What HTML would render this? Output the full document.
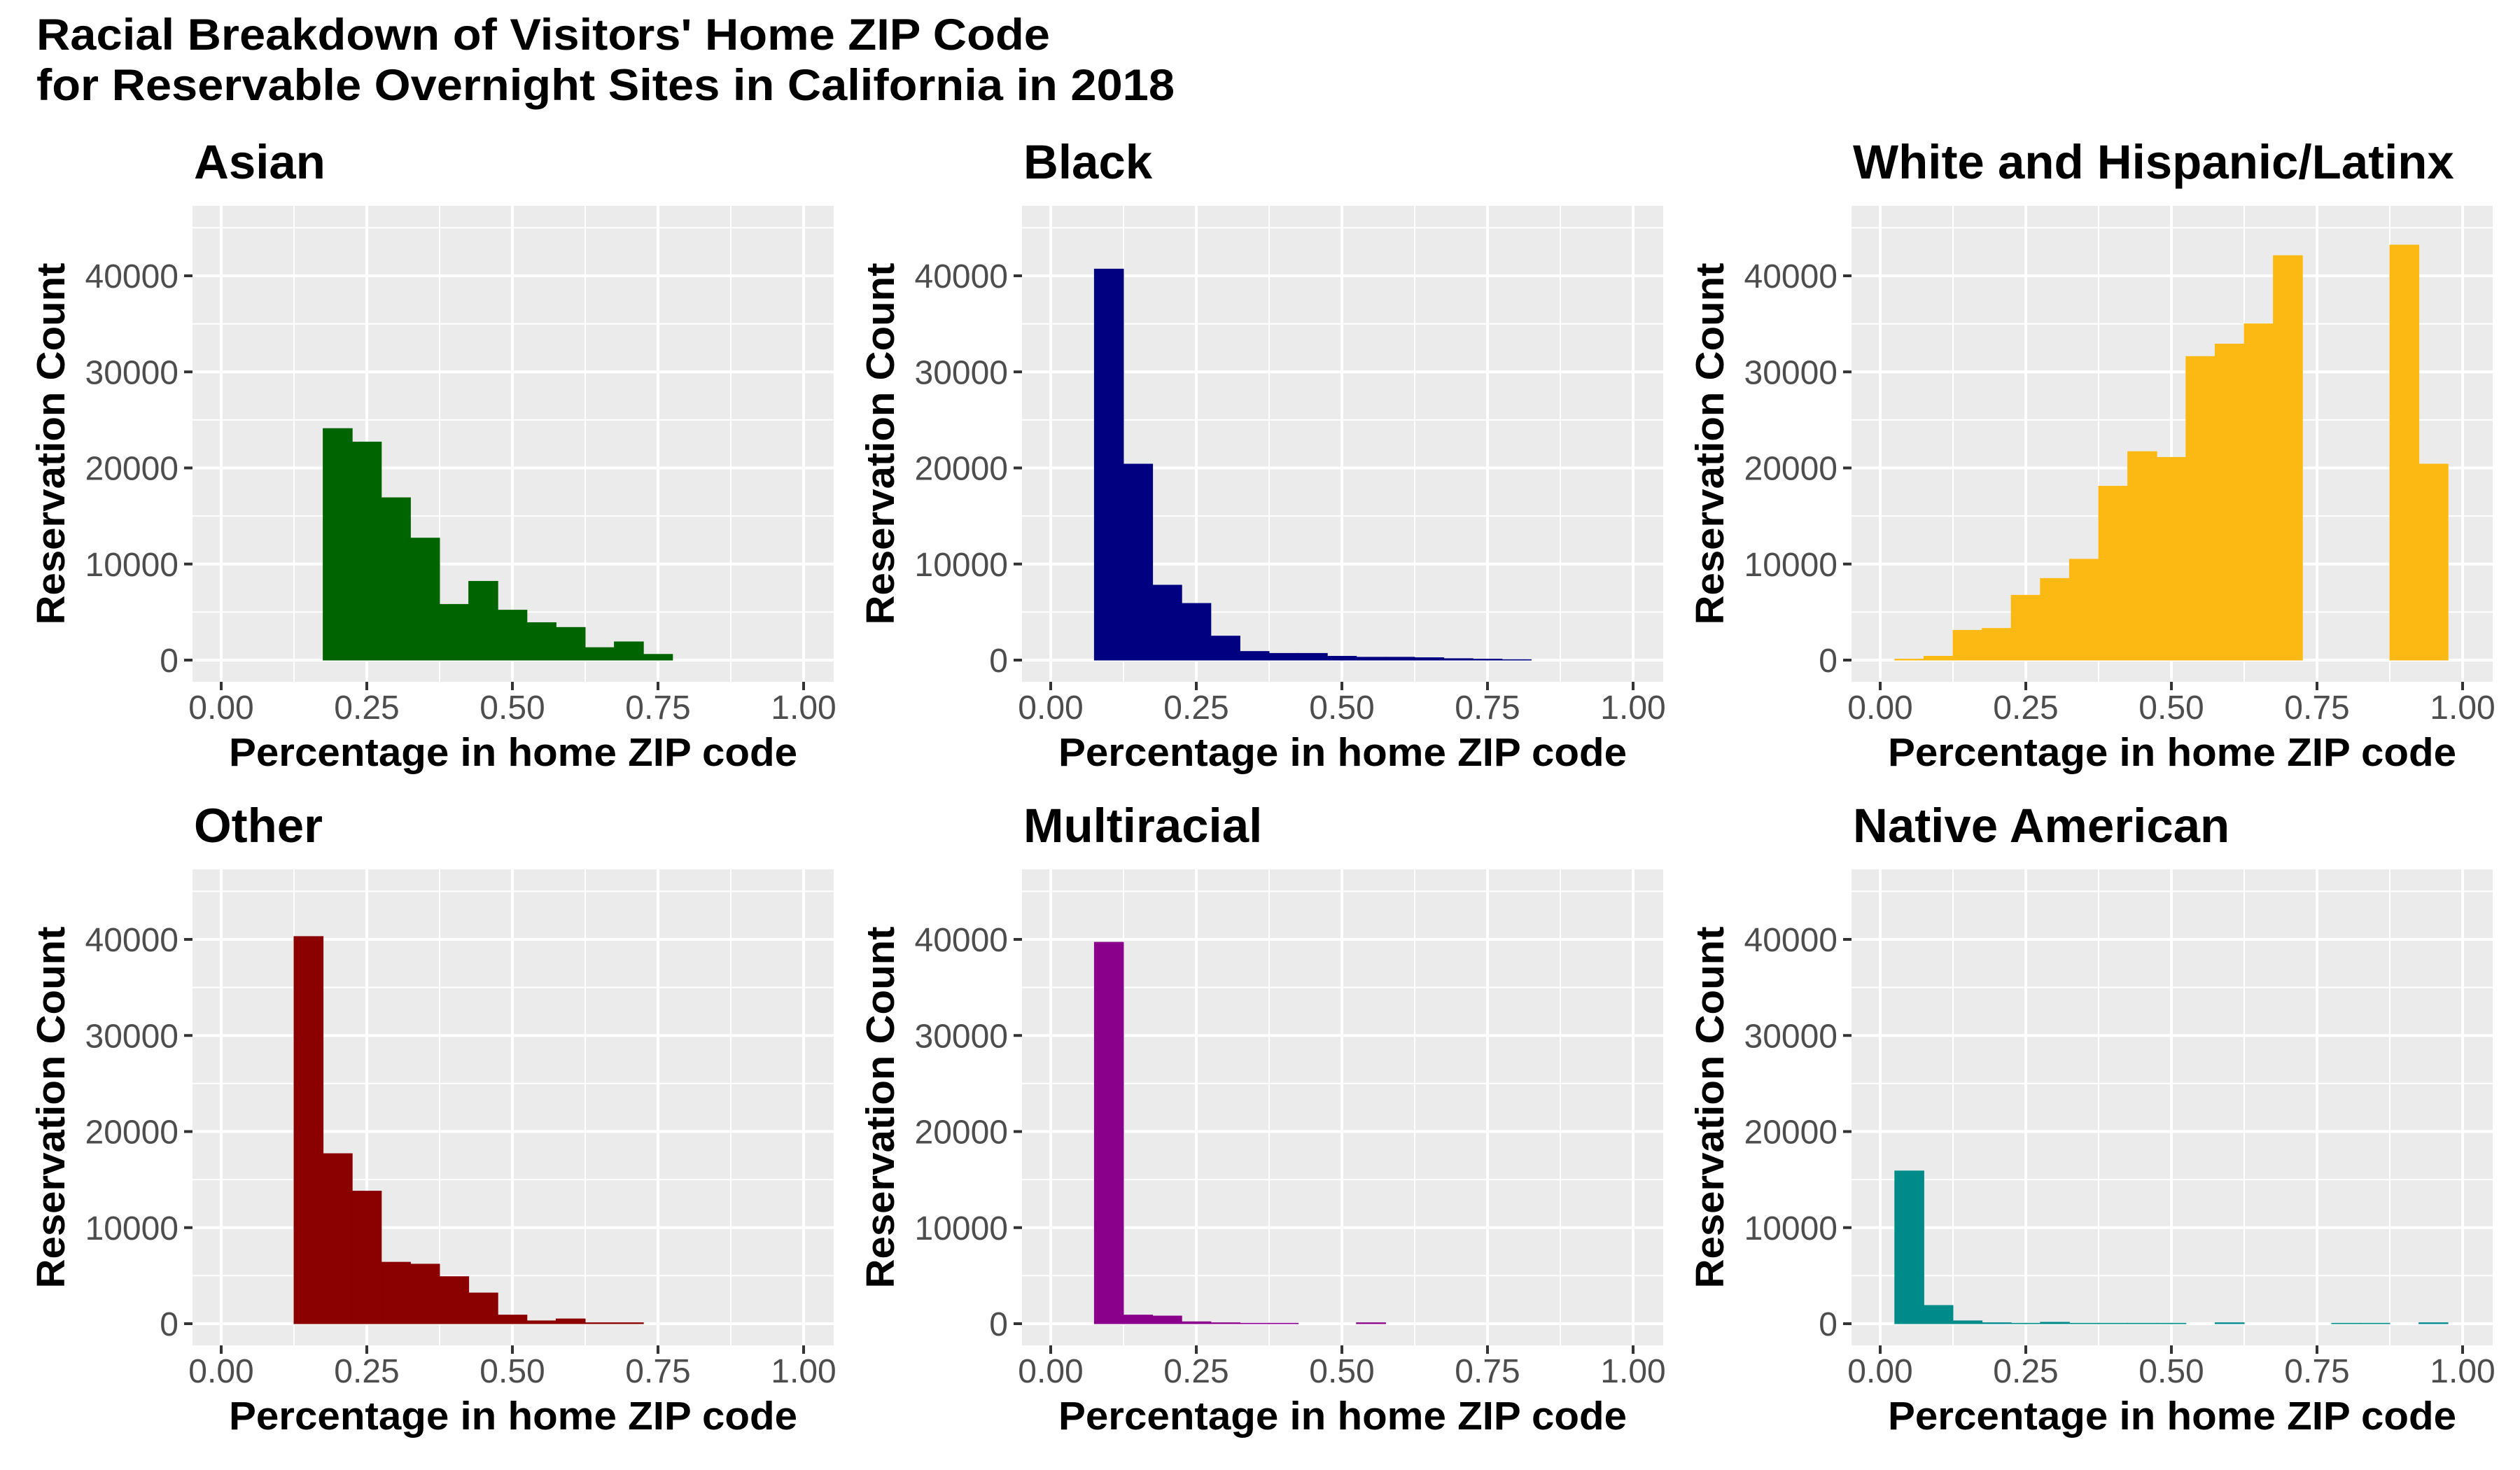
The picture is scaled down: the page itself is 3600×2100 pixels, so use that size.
<!DOCTYPE html>
<html><head><meta charset="utf-8"><style>
html,body{margin:0;padding:0;background:#fff;}
svg{display:block;font-family:"Liberation Sans",sans-serif;}
</style></head><body>
<svg id="chart" width="3600" height="2100" viewBox="0 0 3600 2100" xmlns="http://www.w3.org/2000/svg">
<rect width="3600" height="2100" fill="#fff"/>
<text x="52" y="71" font-size="63" font-weight="bold" textLength="1448" lengthAdjust="spacingAndGlyphs">Racial Breakdown of Visitors' Home ZIP Code</text>
<text x="52" y="143" font-size="63" font-weight="bold" textLength="1626" lengthAdjust="spacingAndGlyphs">for Reservable Overnight Sites in California in 2018</text>
<g id="panels"></g>
</svg>
<script>
const panelTitles = ["Asian","Black","White and Hispanic/Latinx","Other","Multiracial","Native American"];
const panelColors = ["#006400","#000080","#FDB913","#8B0000","#8B008B","#008B8B"];
const binCenters = [0.05,0.10,0.15,0.20,0.25,0.30,0.35,0.40,0.45,0.50,0.55,0.60,0.65,0.70,0.75,0.80,0.85,0.90,0.95];
const asianCounts =    [0,0,0,24100,22700,16900,12700,5800,8200,5200,3900,3400,1300,1900,600,0,0,0,0];
const blackCounts =    [0,40700,20400,7800,5900,2500,900,700,700,400,300,300,250,150,100,50,0,0,0];
const whiteCounts =    [100,400,3100,3300,6750,8500,10500,18100,21700,21100,31600,32900,35000,42100,0,0,0,43200,20400];
const otherCounts =    [0,0,40300,17700,13800,6400,6200,4900,3200,900,300,500,100,100,0,0,0,0,0];
const multiCounts =    [0,39700,900,800,200,100,50,50,0,0,100,0,0,0,0,0,0,0,0];
const nativeCounts =   [15900,1900,300,100,50,150,50,50,50,50,0,100,0,0,0,50,50,0,100];
const allCounts = [asianCounts,blackCounts,whiteCounts,otherCounts,multiCounts,nativeCounts];
const xTicks = [0,0.25,0.5,0.75,1];
const xTickLabels = ["0.00","0.25","0.50","0.75","1.00"];
const yTicks = [0,10000,20000,30000,40000];
const yTickLabels = ["0","10000","20000","30000","40000"];
const binWidth = 0.05;

const NS = "http://www.w3.org/2000/svg";
const root = document.getElementById("panels");
function mk(tag, attrs, parent){ const e=document.createElementNS(NS,tag); for(const k in attrs) e.setAttribute(k,attrs[k]); parent.appendChild(e); return e; }

const P = {left:275,right:1191,top:294,bottom:974,x0:316,x1:1148,y0:943,yPer:(943-394)/40000};
for(let i=0;i<6;i++){
  const col=i%3,row=Math.floor(i/3);
  const dx=col*1185, dy=row*948;
  const xs=v=>dx+P.x0+v*(P.x1-P.x0);
  const ys=v=>dy+P.y0-v*P.yPer;
  const g=mk("g",{},root);
  
  
  const bg=mk("rect",{x:dx+P.left,y:dy+P.top,width:P.right-P.left,height:P.bottom-P.top,fill:"#EBEBEB"},g);
  
  
  for(let k=0;k<xTicks.length-1;k++){const v=(xTicks[k]+xTicks[k+1])/2;
    const l=mk("line",{x1:xs(v),x2:xs(v),y1:dy+P.top,y2:dy+P.bottom,stroke:"#fff","stroke-width":2},g);
    
    }
  for(let k=0;k<yTicks.length;k++){const v=yTicks[k]+5000;
    const l=mk("line",{x1:dx+P.left,x2:dx+P.right,y1:ys(v),y2:ys(v),stroke:"#fff","stroke-width":2},g);
    
    }
  xTicks.forEach((v,k)=>{
    const l=mk("line",{x1:xs(v),x2:xs(v),y1:dy+P.top,y2:dy+P.bottom,stroke:"#fff","stroke-width":4},g);
    
    
    const t=mk("line",{x1:xs(v),x2:xs(v),y1:dy+P.bottom,y2:dy+P.bottom+12,stroke:"#333","stroke-width":4},g);
    
    
    const tx=mk("text",{x:xs(v),y:dy+1027,"font-size":48,fill:"#4D4D4D","text-anchor":"middle"},g);
    tx.textContent=xTickLabels[k];
    
    
  });
  yTicks.forEach((v,k)=>{
    const l=mk("line",{x1:dx+P.left,x2:dx+P.right,y1:ys(v),y2:ys(v),stroke:"#fff","stroke-width":4},g);
    
    
    const t=mk("line",{x1:dx+P.left-12,x2:dx+P.left,y1:ys(v),y2:ys(v),stroke:"#333","stroke-width":4},g);
    
    
    const tx=mk("text",{x:dx+P.left-20,y:ys(v)+17,"font-size":48,fill:"#4D4D4D","text-anchor":"end"},g);
    tx.textContent=yTickLabels[k];
    
    
  });
  const counts=allCounts[i];
  binCenters.forEach((c,k)=>{
    const n=counts[k]; if(!n) return;
    const r=mk("rect",{x:xs(c-binWidth/2),width:xs(c+binWidth/2)-xs(c-binWidth/2),y:ys(n),height:ys(0)-ys(n),fill:panelColors[i],stroke:panelColors[i],"stroke-width":1},g);
    
    
  });
  const tt=mk("text",{x:dx+277,y:dy+255,"font-size":69,"font-weight":"bold",fill:"#000"},g);
  tt.textContent=panelTitles[i];
  
  
  const xt=mk("text",{x:dx+(P.left+P.right)/2,y:dy+1094,"font-size":57,"font-weight":"bold","text-anchor":"middle",textLength:812,lengthAdjust:"spacingAndGlyphs"},g);
  xt.textContent="Percentage in home ZIP code";
  
  
  const cy=dy+(P.top+P.bottom)/2;
  const yt=mk("text",{x:0,y:0,"font-size":57,"font-weight":"bold","text-anchor":"middle",textLength:517,lengthAdjust:"spacingAndGlyphs",transform:`translate(${dx+92},${cy}) rotate(-90)`},g);
  yt.textContent="Reservation Count";
  
  
}
</script>
</body></html>
